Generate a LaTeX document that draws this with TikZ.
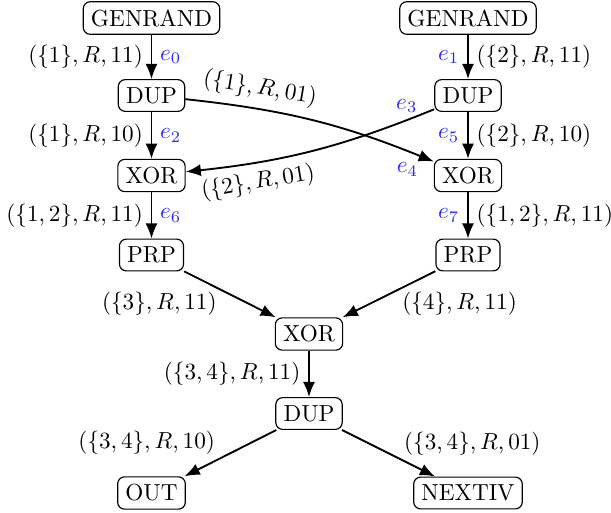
\documentclass[tikz,border=0pt]{standalone}
\usetikzlibrary{arrows.meta}
\definecolor{elab}{RGB}{40,40,255}
\tikzset{
  op/.style={draw, rounded corners=3pt, line width=0.5pt, inner sep=3.33pt},
  flow/.style={-{Latex[length=6.5pt,width=5.2pt]}, line width=0.8pt},
  ename/.style={text=elab},
}
\begin{document}
\begin{tikzpicture}[x=0.431pt,y=-0.431pt]
\useasboundingbox (0,0) rectangle (611,512);

% operators
\node[op] (g1) at (151.5,18) {GENRAND};
\node[op] (g2) at (468,18) {GENRAND};
\node[op] (d1) at (151.5,95.5) {DUP};
\node[op] (d2) at (468,95.5) {DUP};
\node[op] (x1) at (151.5,175.5) {XOR};
\node[op] (x2) at (468,175.5) {XOR};
\node[op] (p1) at (151.5,255) {PRP};
\node[op] (p2) at (468,255) {PRP};
\node[op] (x3) at (309,334) {XOR};
\node[op] (d3) at (309,413.5) {DUP};
\node[op] (out) at (151.5,493) {OUT};
\node[op] (nxt) at (468,493) {NEXTIV};

% left branch
\draw[flow] (g1) -- node[left]{$(\{1\},R,11)$} node[right,ename]{$e_0$} (d1);
\draw[flow] (d1) -- node[left]{$(\{1\},R,10)$} node[right,ename]{$e_2$} (x1);
\draw[flow] (x1) -- node[left]{$(\{1,2\},R,11)$} node[right,ename]{$e_6$} (p1);

% right branch
\draw[flow] (g2) -- node[right]{$(\{2\},R,11)$} node[left,ename]{$e_1$} (d2);
\draw[flow] (d2) -- node[right]{$(\{2\},R,10)$} node[left,ename]{$e_5$} (x2);
\draw[flow] (x2) -- node[right]{$(\{1,2\},R,11)$} node[left,ename]{$e_7$} (p2);

% crossing edges
\draw[flow] (d1) to[bend left=8]
  node[pos=0.265, sloped, above]{$(\{1\},R,01)$}
  node[pos=1, anchor=east, ename, xshift=-3pt, yshift=-3.5pt]{$e_4$} (x2);
\draw[flow] (d2) to[bend left=8]
  node[pos=0.745, sloped, below]{$(\{2\},R,01)$}
  node[pos=0, anchor=east, ename, xshift=-3.5pt, yshift=1.5pt]{$e_3$} (x1);

% merge
\draw[flow] (p1) -- node[anchor=east, xshift=-2pt, yshift=-4pt]{$(\{3\},R,11)$} (x3);
\draw[flow] (p2) -- node[anchor=west, xshift=2pt, yshift=-4pt]{$(\{4\},R,11)$} (x3);
\draw[flow] (x3) -- node[left]{$(\{3,4\},R,11)$} (d3);
\draw[flow] (d3) -- node[anchor=east, xshift=-3pt, yshift=4.3pt]{$(\{3,4\},R,10)$} (out);
\draw[flow] (d3) -- node[anchor=west, xshift=3pt, yshift=4pt]{$(\{3,4\},R,01)$} (nxt);
\end{tikzpicture}
\end{document}
